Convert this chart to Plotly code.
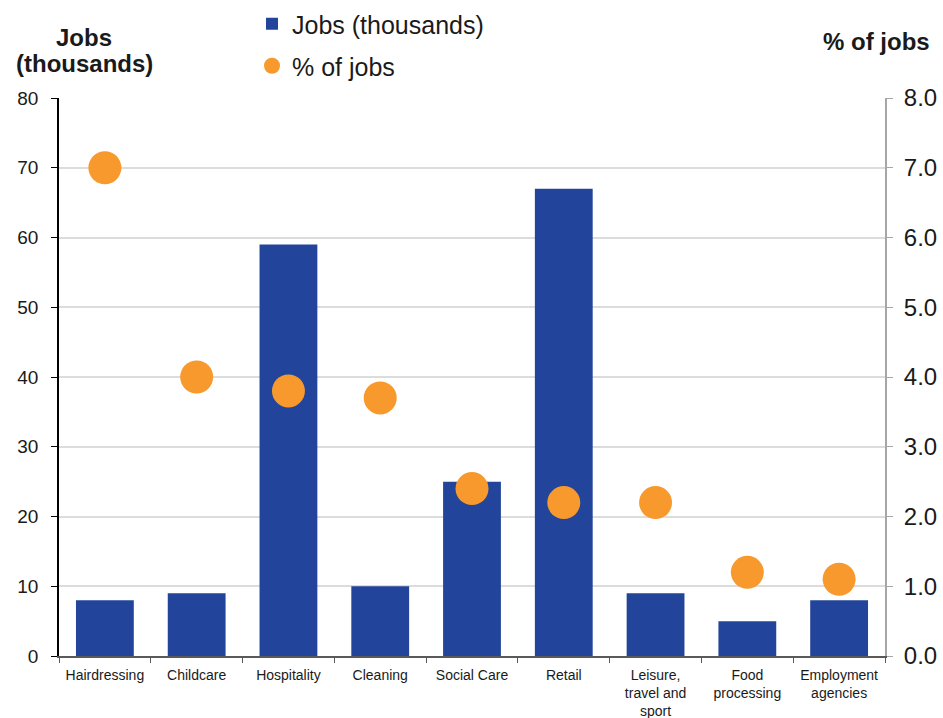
import plotly.graph_objects as go

# Sector data
sectors = ["Hairdressing", "Childcare", "Hospitality", "Cleaning", "Social Care",
           "Retail", "Leisure,<br>travel and<br>sport", "Food<br>processing",
           "Employment<br>agencies"]
jobs_thousands = [8, 9, 59, 10, 25, 67, 9, 5, 8]
pct_of_jobs = [7.0, 4.0, 3.8, 3.7, 2.4, 2.2, 2.2, 1.2, 1.1]

left_ticks = [0, 10, 20, 30, 40, 50, 60, 70, 80]
right_ticks = [0, 1, 2, 3, 4, 5, 6, 7, 8]

NAVY = "#22449A"
ORANGE = "#F7992C"
FONT = "Liberation Sans, Arial, sans-serif"

L, R, T, B = 59, 58, 98, 62
W, H = 943, 718
PW, PH = W - L - R, H - T - B


def px_x(px):
    return (px - L) / PW


def px_y(py):
    return (H - B - py) / PH


fig = go.Figure()
fig.add_trace(go.Bar(
    x=sectors, y=jobs_thousands, name="Jobs (thousands)",
    marker=dict(color=NAVY, line=dict(width=0)),
    yaxis="y", legend="legend",
))
fig.add_trace(go.Scatter(
    x=sectors, y=pct_of_jobs, name="% of jobs", mode="markers",
    marker=dict(color=ORANGE, size=33, line=dict(width=0)),
    yaxis="y2", legend="legend2",
))

fig.update_layout(
    width=W, height=H,
    margin=dict(l=L, r=R, t=T, b=B, autoexpand=False),
    paper_bgcolor="white", plot_bgcolor="white",
    font=dict(family=FONT, color="#1a1a1a"),
    bargap=0.37,
    showlegend=True,
    legend=dict(x=px_x(252), y=px_y(24), xanchor="left", yanchor="middle",
                font=dict(size=25, family=FONT, color="#1a1a1a"),
                bgcolor="rgba(0,0,0,0)"),
    legend2=dict(x=px_x(252), y=px_y(66), xanchor="left", yanchor="middle",
                 font=dict(size=25, family=FONT, color="#1a1a1a"),
                 bgcolor="rgba(0,0,0,0)"),
    xaxis=dict(
        type="category", range=[-0.5, len(sectors) - 0.5],
        tickson="boundaries", ticks="outside", ticklen=5,
        tickcolor="#595959", showline=True, linecolor="#595959", linewidth=1.5,
        showgrid=False, tickfont=dict(size=14, family=FONT, color="#1a1a1a"),
        tickangle=0, automargin=False, ticklabelstandoff=5,
    ),
    yaxis=dict(
        range=[0, 80], tickvals=left_ticks, ticks="outside", ticklen=6,
        tickcolor="#000000", showline=True, linecolor="#000000", linewidth=1.5,
        showgrid=True, gridcolor="#DCDCDC", gridwidth=2, zeroline=False,
        tickfont=dict(size=19, family=FONT, color="#1a1a1a"),
        ticklabelstandoff=9, automargin=False,
    ),
    yaxis2=dict(
        range=[0, 8], tickvals=right_ticks, tickformat=".1f", overlaying="y",
        side="right", ticks="outside", ticklen=6, tickcolor="#A6A6A6",
        showline=True, linecolor="#A6A6A6", linewidth=2, showgrid=False,
        zeroline=False, tickfont=dict(size=24, family=FONT, color="#1a1a1a"),
        ticklabelstandoff=6, automargin=False,
    ),
    annotations=[
        dict(text="<b>Jobs</b>", xref="paper", yref="paper", x=px_x(84), y=px_y(37),
             xanchor="center", yanchor="middle", showarrow=False,
             font=dict(size=24, family=FONT, color="#1a1a1a")),
        dict(text="<b>(thousands)</b>", xref="paper", yref="paper", x=px_x(84), y=px_y(64),
             xanchor="center", yanchor="middle", showarrow=False,
             font=dict(size=24, family=FONT, color="#1a1a1a")),
        dict(text="<b>% of jobs</b>", xref="paper", yref="paper", x=px_x(876), y=px_y(42),
             xanchor="center", yanchor="middle", showarrow=False,
             font=dict(size=24, family=FONT, color="#1a1a1a")),
    ],
)

fig.write_html("out.html")
